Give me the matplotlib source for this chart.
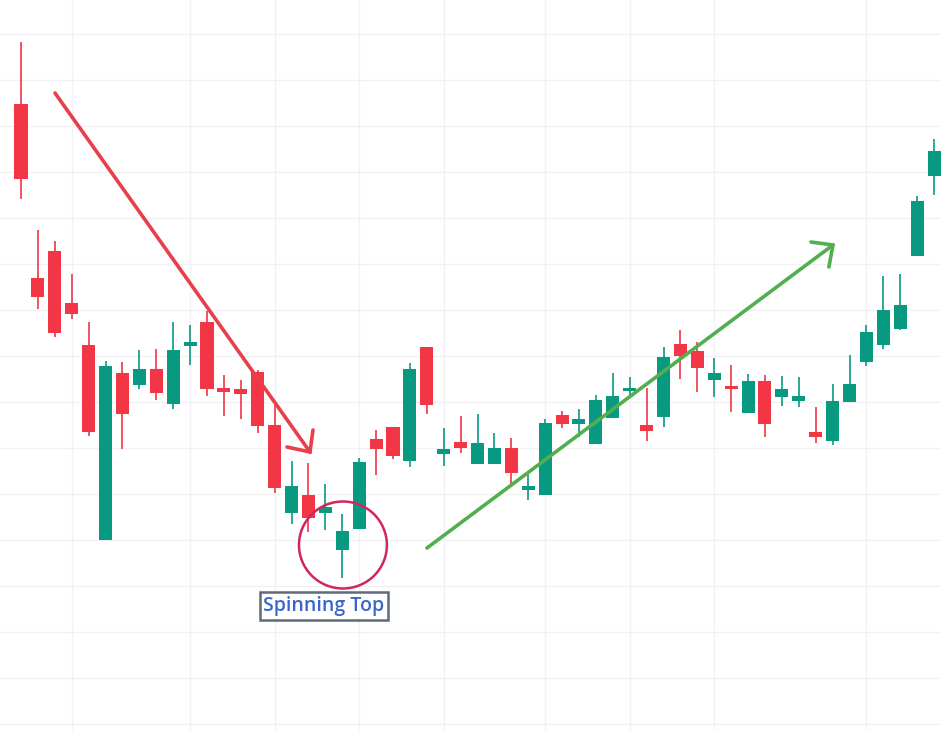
import numpy as np
import matplotlib
matplotlib.use("Agg")
from matplotlib import pyplot as plt
from matplotlib.patches import Rectangle, Ellipse

# velas (open, high, low, close)
opens  = [626, 452, 479, 427, 385, 190, 357, 345, 361, 326, 384, 408, 342, 341, 358,
          305, 217, 235, 217, 180, 201, 291, 303, 269, 383, 276, 288, 266, 266, 282,
          240, 235, 315, 306, 286, 312, 339, 305, 313, 386, 379, 350, 344, 317, 349,
          333, 329, 298, 289, 328, 368, 385, 401, 474, 554]
highs  = [688, 500, 489, 456, 408, 369, 368, 380, 381, 408, 405, 419, 355, 350, 360,
          325, 269, 267, 246, 216, 272, 300, 303, 367, 383, 302, 314, 316, 297, 292,
          259, 311, 319, 321, 335, 357, 353, 342, 383, 400, 388, 372, 365, 356, 355,
          354, 353, 323, 346, 375, 405, 454, 456, 534, 591]
lows   = [531, 421, 393, 411, 294, 190, 281, 341, 330, 321, 365, 334, 314, 311, 297,
          237, 206, 198, 200, 152, 201, 255, 271, 263, 316, 264, 277, 266, 266, 246,
          230, 235, 302, 293, 286, 312, 333, 289, 303, 351, 338, 333, 318, 317, 293,
          324, 323, 287, 285, 328, 364, 381, 400, 474, 535]
closes = [551, 433, 397, 416, 298, 364, 316, 361, 337, 380, 388, 341, 338, 336, 304,
          242, 244, 212, 223, 199, 268, 281, 274, 361, 325, 281, 282, 287, 282, 257,
          244, 307, 306, 311, 330, 334, 342, 299, 373, 374, 362, 357, 341, 349, 306,
          341, 334, 293, 329, 346, 398, 420, 425, 529, 579]

grid_idx = [3, 10, 15, 20, 25, 31, 36, 41, 50]   # lineas verticales (fechas)
grid_y = np.arange(6, 730, 46)

verde = "#089981"
rojo = "#F23645"

fig = plt.figure(figsize=(9.41, 7.30), dpi=100)
ax = fig.add_axes([0, 0, 1, 1])
ax.set_xlim(-1.242, 54.41)
ax.set_ylim(0, 730)

for gx in grid_idx:
    ax.axvline(gx, color="#f2f2f5", lw=1, zorder=0)
for gy in grid_y:
    ax.axhline(gy, color="#f2f2f5", lw=1, zorder=0)

ancho = 0.77
for i in range(len(opens)):
    o, h, l, c = opens[i], highs[i], lows[i], closes[i]
    color = verde if c >= o else rojo
    ax.plot([i, i], [l, h], color=color, lw=1.2, zorder=2, solid_capstyle="butt")
    ax.add_patch(Rectangle((i - ancho / 2, min(o, c)), ancho, max(abs(c - o), 3),
                           facecolor=color, edgecolor="none", zorder=3))

# flecha roja (tendencia bajista)
rojo_f = "#E8404B"
ax.plot([2.01, 17.09], [637, 278], color=rojo_f, lw=2.6, solid_capstyle="round", zorder=4)
ax.plot([17.27, 17.09, 15.73], [300, 278, 283], color=rojo_f, lw=2.6,
        solid_capstyle="round", solid_joinstyle="miter", zorder=4)

# flecha verde (tendencia alcista)
verde_f = "#52AE4F"
ax.plot([24.01, 48.02], [182, 485], color=verde_f, lw=2.6, solid_capstyle="round", zorder=4)
ax.plot([46.72, 48.02, 47.78], [488, 485, 463], color=verde_f, lw=2.6,
        solid_capstyle="round", solid_joinstyle="miter", zorder=4)

# circulo del spinning top
ax.add_patch(Ellipse((19.04, 185), 5.2, 87, facecolor="none", edgecolor="#D2255C",
                     lw=1.8, zorder=5))

ax.text(17.92, 124, "Spinning Top", ha="center", va="center", fontsize=14,
        fontweight="semibold", family=["Open Sans", "DejaVu Sans"], color="#3A66CC", zorder=6,
        bbox=dict(boxstyle="square,pad=0.2", facecolor="white", edgecolor="#5F6B78", lw=1.8))

ax.axis("off")
fig.savefig("out.png", dpi=100)
